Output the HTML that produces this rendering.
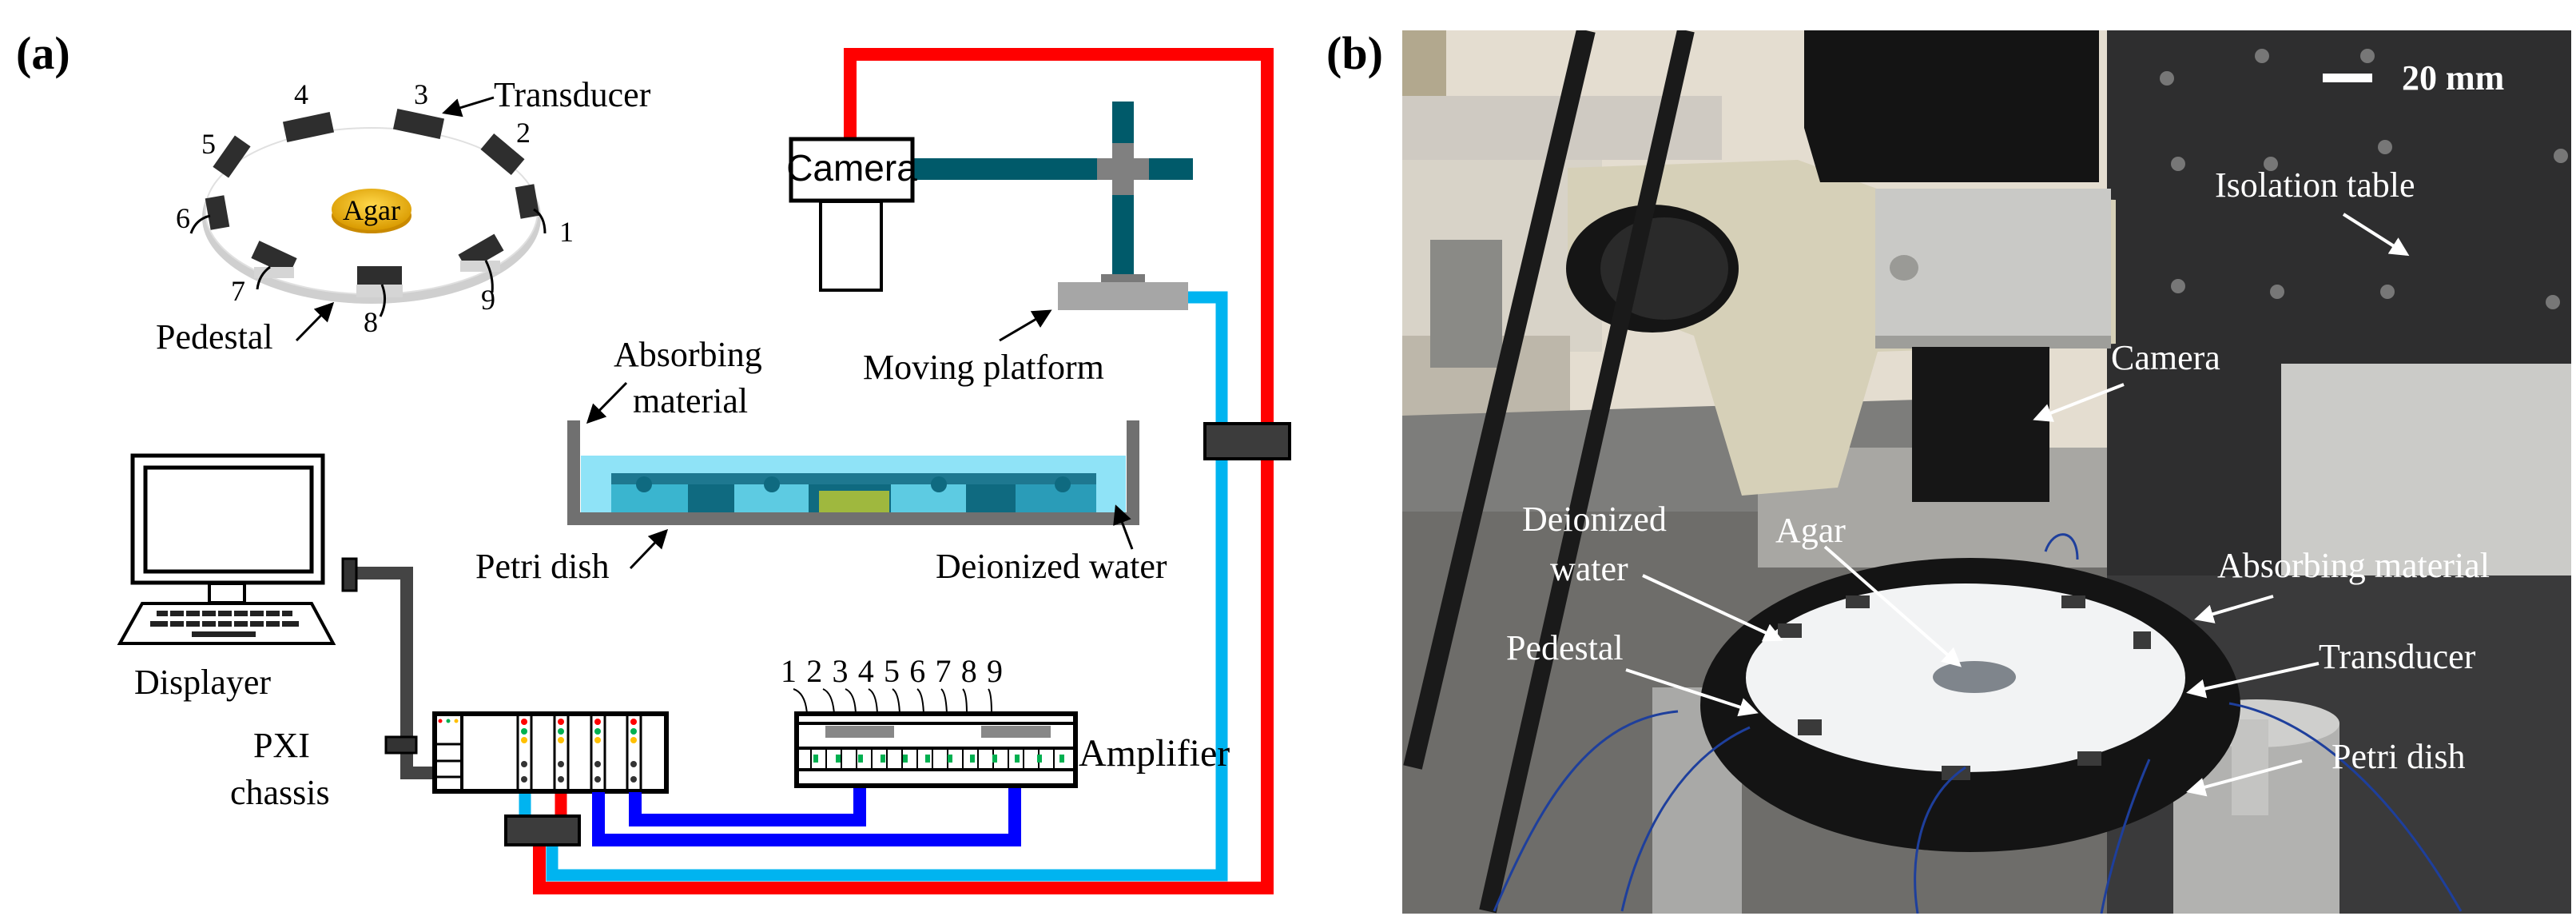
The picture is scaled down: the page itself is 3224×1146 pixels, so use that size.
<!DOCTYPE html>
<html><head><meta charset="utf-8"><style>
html,body{margin:0;padding:0;background:#fff;}
svg{display:block;}
svg text{font-family:"Liberation Serif",serif;}
svg text.sans{font-family:"Liberation Sans",sans-serif;}
</style></head><body>
<svg width="3224" height="1146" viewBox="0 0 3224 1146" xmlns="http://www.w3.org/2000/svg" font-family="Liberation Serif, serif">
<defs>
<marker id="ab" markerWidth="8" markerHeight="8" refX="7" refY="4" orient="auto" markerUnits="strokeWidth"><path d="M0,0 L8,4 L0,8 Z" fill="#000"/></marker>
<marker id="aw" markerWidth="6" markerHeight="6" refX="5" refY="3" orient="auto" markerUnits="strokeWidth"><path d="M0,0 L6,3 L0,6 Z" fill="#fff"/></marker>
<radialGradient id="gold" cx="50%" cy="40%" r="60%"><stop offset="0" stop-color="#ffd84a"/><stop offset="1" stop-color="#d99a00"/></radialGradient>
</defs>

<text x="20" y="86" font-size="58" font-weight="bold">(a)</text>

<!-- ring -->
<ellipse cx="465" cy="272" rx="212" ry="108" fill="#cfcfcf"/>
<ellipse cx="465" cy="264" rx="208" ry="104" fill="#fff" stroke="#e0e0e0" stroke-width="2"/>
<ellipse cx="465" cy="270" rx="50" ry="22" fill="#c98a00"/>
<ellipse cx="465" cy="262" rx="50" ry="26" fill="url(#gold)"/>
<text x="465" y="275" font-size="36" text-anchor="middle" font-family="Liberation Serif, serif">Agar</text>
<g fill="#2e2e2e">
<rect x="356" y="146" width="60" height="26" transform="rotate(-12 386 159)"/>
<rect x="494" y="142" width="60" height="26" transform="rotate(12 524 155)"/>
<rect x="604" y="180" width="50" height="26" transform="rotate(40 629 193)"/>
<rect x="266" y="184" width="48" height="24" transform="rotate(-55 290 196)"/>
<rect x="640" y="240" width="40" height="24" transform="rotate(80 660 252)"/>
<rect x="252" y="254" width="40" height="24" transform="rotate(-100 272 266)"/>
<rect x="576" y="304" width="52" height="24" transform="rotate(-30 602 316)"/>
<rect x="317" y="311" width="52" height="24" transform="rotate(25 343 323)"/>
<rect x="447" y="333" width="56" height="24"/>
</g>
<g fill="#d5d5d5">
<rect x="446" y="356" width="58" height="16"/><rect x="318" y="334" width="50" height="14"/><rect x="576" y="326" width="50" height="14"/>
</g>
<g fill="none" stroke="#000" stroke-width="3">
<path d="M668 262 q14 8 14 30"/><path d="M263 270 q-18 4 -24 22"/><path d="M608 326 q10 20 8 40"/>
<path d="M338 334 q-14 10 -16 28"/><path d="M478 356 q8 20 -2 40"/>
</g>
<g font-size="36" font-family="Liberation Serif, serif">
<text x="368" y="130">4</text><text x="518" y="130">3</text><text x="646" y="178">2</text><text x="252" y="192">5</text>
<text x="700" y="302">1</text><text x="220" y="285">6</text><text x="602" y="387">9</text><text x="289" y="376">7</text><text x="455" y="415">8</text>
</g>
<text x="618" y="133" font-size="44" font-family="Liberation Serif, serif">Transducer</text>
<line x1="618" y1="122" x2="556" y2="141" stroke="#000" stroke-width="3" marker-end="url(#ab)"/>
<text x="195" y="436" font-size="44" font-family="Liberation Serif, serif">Pedestal</text>
<line x1="371" y1="426" x2="416" y2="380" stroke="#000" stroke-width="3" marker-end="url(#ab)"/>

<!-- red & cyan loops -->
<path d="M1064 174 V68 H1586 V1111 H675 V1040" fill="none" stroke="#ff0000" stroke-width="16"/>
<path d="M1487 372 H1529 V1095 H691 V1040" fill="none" stroke="#00b4f0" stroke-width="15"/>
<line x1="657" y1="991" x2="657" y2="1022" stroke="#00b4f0" stroke-width="15"/>
<line x1="702" y1="991" x2="702" y2="1022" stroke="#ff0000" stroke-width="15"/>
<rect x="1508" y="530" width="106" height="44" fill="#3c3c3c" stroke="#000" stroke-width="4"/>
<rect x="633" y="1021" width="92" height="36" fill="#3c3c3c" stroke="#000" stroke-width="4"/>

<!-- camera + arm -->
<rect x="1142" y="198" width="351" height="27" fill="#005a6a"/>
<rect x="1392" y="127" width="27" height="218" fill="#005a6a"/>
<rect x="1373" y="198" width="65" height="27" fill="#808080"/>
<rect x="1392" y="179" width="27" height="65" fill="#808080"/>
<rect x="1378" y="343" width="55" height="11" fill="#7a7a7a"/>
<rect x="1324" y="353" width="163" height="35" fill="#a6a6a6"/>
<rect x="990" y="174" width="152" height="77" fill="#fff" stroke="#000" stroke-width="5"/>
<text x="1066" y="226" font-size="46" text-anchor="middle" class="sans" font-family="Liberation Sans, sans-serif">Camera</text>
<rect x="1027" y="252" width="76" height="111" fill="#fff" stroke="#000" stroke-width="4"/>
<text x="1080" y="474" font-size="44" font-family="Liberation Serif, serif">Moving platform</text>
<line x1="1251" y1="426" x2="1314" y2="389" stroke="#000" stroke-width="3" marker-end="url(#ab)"/>

<!-- tank -->
<rect x="727" y="570" width="682" height="74" fill="#8fe3f7"/>
<rect x="765" y="592" width="607" height="14" fill="#1e7890"/>
<rect x="765" y="606" width="96" height="38" fill="#3ab5cf"/>
<rect x="861" y="606" width="58" height="38" fill="#0f6a80"/>
<rect x="919" y="606" width="93" height="38" fill="#5dcbe2"/>
<rect x="1012" y="606" width="10" height="38" fill="#0f6a80"/>
<rect x="1022" y="606" width="93" height="38" fill="#0f6a80"/>
<rect x="1025" y="614" width="88" height="28" fill="#9fb83e"/>
<rect x="1115" y="606" width="94" height="38" fill="#5dcbe2"/>
<rect x="1209" y="606" width="62" height="38" fill="#0f6a80"/>
<rect x="1271" y="606" width="101" height="38" fill="#2a9cb8"/>
<g fill="#0f6a80"><circle cx="806" cy="606" r="10"/><circle cx="966" cy="606" r="10"/><circle cx="1175" cy="606" r="10"/><circle cx="1330" cy="606" r="10"/></g>
<path d="M718 526 V649 H1418 V526" fill="none" stroke="#707070" stroke-width="16"/>
<g font-size="44" font-family="Liberation Serif, serif">
<text x="768" y="458">Absorbing</text>
<text x="792" y="516">material</text>
<text x="595" y="723">Petri dish</text>
<text x="1171" y="723">Deionized water</text>
<text x="168" y="868">Displayer</text>
<text x="317" y="947">PXI</text>
<text x="288" y="1006">chassis</text>
</g>
<line x1="784" y1="479" x2="736" y2="528" stroke="#000" stroke-width="3" marker-end="url(#ab)"/>
<line x1="789" y1="711" x2="834" y2="664" stroke="#000" stroke-width="3" marker-end="url(#ab)"/>
<line x1="1417" y1="687" x2="1397" y2="634" stroke="#000" stroke-width="3" marker-end="url(#ab)"/>

<!-- computer -->
<rect x="166" y="570" width="238" height="159" fill="#fff" stroke="#000" stroke-width="5"/>
<rect x="182" y="585" width="208" height="130" fill="#fff" stroke="#000" stroke-width="5"/>
<rect x="262" y="730" width="44" height="24" fill="#fff" stroke="#000" stroke-width="4"/>
<path d="M150 805 L178 755 H390 L417 805 Z" fill="#fff" stroke="#000" stroke-width="4"/>
<g fill="#222">
<rect x="196" y="764" width="170" height="7"/><rect x="188" y="777" width="186" height="7"/><rect x="240" y="790" width="80" height="7"/>
</g>
<g fill="#fff"><rect x="210" y="764" width="3" height="20"/><rect x="230" y="764" width="3" height="20"/><rect x="250" y="764" width="3" height="20"/><rect x="270" y="764" width="3" height="20"/><rect x="290" y="764" width="3" height="20"/><rect x="310" y="764" width="3" height="20"/><rect x="330" y="764" width="3" height="20"/><rect x="350" y="764" width="3" height="20"/></g>
<path d="M430 717 H509 V967 H545" fill="none" stroke="#444" stroke-width="16"/>
<rect x="429" y="699" width="17" height="40" fill="#333" stroke="#000" stroke-width="3"/>
<rect x="483" y="922" width="38" height="20" fill="#333" stroke="#000" stroke-width="3"/>

<!-- PXI -->
<rect x="544" y="893" width="290" height="97" fill="#fff" stroke="#000" stroke-width="6"/>
<line x1="578" y1="893" x2="578" y2="990" stroke="#000" stroke-width="4"/>
<g stroke="#000" stroke-width="3"><line x1="547" y1="931" x2="578" y2="931"/><line x1="547" y1="952" x2="578" y2="952"/><line x1="547" y1="972" x2="578" y2="972"/></g>
<g stroke="#000" stroke-width="3">
<line x1="648" y1="893" x2="648" y2="990"/><line x1="665" y1="893" x2="665" y2="990"/>
<line x1="694" y1="893" x2="694" y2="990"/><line x1="711" y1="893" x2="711" y2="990"/>
<line x1="740" y1="893" x2="740" y2="990"/><line x1="757" y1="893" x2="757" y2="990"/>
<line x1="785" y1="893" x2="785" y2="990"/><line x1="802" y1="893" x2="802" y2="990"/>
</g>
<g>
<circle cx="656" cy="903" r="4" fill="red"/><circle cx="656" cy="915" r="4" fill="#00b050"/><circle cx="656" cy="926" r="4" fill="#ffc000"/><circle cx="656" cy="956" r="4" fill="#333"/><circle cx="656" cy="975" r="4" fill="#333"/>
<circle cx="702" cy="903" r="4" fill="red"/><circle cx="702" cy="915" r="4" fill="#00b050"/><circle cx="702" cy="926" r="4" fill="#ffc000"/><circle cx="702" cy="956" r="4" fill="#333"/><circle cx="702" cy="975" r="4" fill="#333"/>
<circle cx="748" cy="903" r="4" fill="red"/><circle cx="748" cy="915" r="4" fill="#00b050"/><circle cx="748" cy="926" r="4" fill="#ffc000"/><circle cx="748" cy="956" r="4" fill="#333"/><circle cx="748" cy="975" r="4" fill="#333"/>
<circle cx="793" cy="903" r="4" fill="red"/><circle cx="793" cy="915" r="4" fill="#00b050"/><circle cx="793" cy="926" r="4" fill="#ffc000"/><circle cx="793" cy="956" r="4" fill="#333"/><circle cx="793" cy="975" r="4" fill="#333"/>
<circle cx="551" cy="902" r="2.5" fill="red"/><circle cx="561" cy="902" r="2.5" fill="#00b050"/><circle cx="571" cy="902" r="2.5" fill="#ffc000"/>
</g>

<!-- blue -->
<path d="M795 991 V1026 H1076 V983" fill="none" stroke="#0000ff" stroke-width="16"/>
<path d="M749 991 V1051 H1270 V983" fill="none" stroke="#0000ff" stroke-width="16"/>

<!-- amplifier -->
<rect x="997" y="893" width="349" height="90" fill="#fff" stroke="#000" stroke-width="6"/>
<line x1="997" y1="905" x2="1346" y2="905" stroke="#000" stroke-width="4"/>
<line x1="997" y1="936" x2="1346" y2="936" stroke="#000" stroke-width="4"/>
<line x1="997" y1="963" x2="1346" y2="963" stroke="#000" stroke-width="4"/>
<rect x="1033" y="908" width="86" height="15" fill="#888"/>
<rect x="1228" y="908" width="87" height="15" fill="#888"/>
<g stroke="#000" stroke-width="2">
<line x1="1015" y1="936" x2="1015" y2="963"/><line x1="1034" y1="936" x2="1034" y2="963"/><line x1="1053" y1="936" x2="1053" y2="963"/><line x1="1072" y1="936" x2="1072" y2="963"/><line x1="1091" y1="936" x2="1091" y2="963"/><line x1="1110" y1="936" x2="1110" y2="963"/><line x1="1129" y1="936" x2="1129" y2="963"/><line x1="1148" y1="936" x2="1148" y2="963"/><line x1="1167" y1="936" x2="1167" y2="963"/><line x1="1186" y1="936" x2="1186" y2="963"/><line x1="1205" y1="936" x2="1205" y2="963"/><line x1="1224" y1="936" x2="1224" y2="963"/><line x1="1243" y1="936" x2="1243" y2="963"/><line x1="1262" y1="936" x2="1262" y2="963"/><line x1="1281" y1="936" x2="1281" y2="963"/><line x1="1300" y1="936" x2="1300" y2="963"/><line x1="1319" y1="936" x2="1319" y2="963"/>
</g>
<g fill="#00b050">
<rect x="1018" y="944" width="6" height="10"/><rect x="1046" y="944" width="6" height="10"/><rect x="1074" y="944" width="6" height="10"/><rect x="1102" y="944" width="6" height="10"/><rect x="1130" y="944" width="6" height="10"/><rect x="1158" y="944" width="6" height="10"/><rect x="1186" y="944" width="6" height="10"/><rect x="1214" y="944" width="6" height="10"/><rect x="1242" y="944" width="6" height="10"/><rect x="1270" y="944" width="6" height="10"/><rect x="1298" y="944" width="6" height="10"/><rect x="1326" y="944" width="6" height="10"/>
</g>
<text x="977" y="853" font-size="40" textLength="278" font-family="Liberation Serif, serif">1 2 3 4 5 6 7 8 9</text>
<g fill="none" stroke="#000" stroke-width="2">
<path d="M993 862 q15 5 17 31"/><path d="M1030 862 q12 5 14 31"/><path d="M1058 862 q12 5 13 31"/><path d="M1087 862 q10 5 11 31"/><path d="M1117 862 q8 5 9 31"/><path d="M1148 862 q7 5 8 31"/><path d="M1178 862 q6 5 7 31"/><path d="M1205 862 q5 5 5 31"/><path d="M1237 862 q4 5 4 31"/>
</g>
<text x="1350" y="958" font-size="48" font-family="Liberation Serif, serif">Amplifier</text>

<!-- (b) -->
<text x="1660" y="86" font-size="58" font-weight="bold">(b)</text>
<svg x="1755" y="38" width="1463" height="1105" viewBox="1755 38 1463 1105">
<rect x="1755" y="38" width="1463" height="1105" fill="#e4ddd0"/>
<rect x="1755" y="38" width="55" height="90" fill="#b2a88e"/>
<rect x="1755" y="120" width="400" height="80" fill="#cfcac2"/>
<rect x="1755" y="200" width="250" height="240" fill="#d8d3c8"/>
<rect x="1755" y="420" width="210" height="300" fill="#bdb7aa"/>
<rect x="1790" y="300" width="90" height="160" fill="#8a8a86"/>
<polygon points="1755,520 2400,500 2410,620 1755,720" fill="#7d7d7b"/>
<rect x="1755" y="640" width="900" height="503" fill="#6e6d6a"/>
<rect x="2200" y="560" width="480" height="150" fill="#a8a7a3"/>
<rect x="2637" y="38" width="581" height="700" fill="#2e2e2f"/>
<rect x="2855" y="455" width="363" height="270" fill="#cbcbc8"/>
<rect x="2637" y="720" width="581" height="423" fill="#3a3a3b"/>
<g fill="#777"><circle cx="2712" cy="98" r="9"/><circle cx="2831" cy="70" r="9"/><circle cx="2963" cy="70" r="9"/><circle cx="2726" cy="205" r="9"/><circle cx="2842" cy="205" r="9"/><circle cx="2985" cy="184" r="9"/><circle cx="3205" cy="195" r="9"/><circle cx="2726" cy="358" r="9"/><circle cx="2850" cy="365" r="9"/><circle cx="2988" cy="365" r="9"/><circle cx="3195" cy="378" r="9"/></g>
<path d="M1962 210 L2250 200 L2360 240 L2648 250 L2648 430 L2350 440 L2300 610 L2180 620 L2120 420 L1962 360 Z" fill="#d6d0b8"/>
<ellipse cx="2068" cy="336" rx="108" ry="80" fill="#151515"/>
<ellipse cx="2083" cy="336" rx="80" ry="64" fill="#2a2a2a"/>
<polygon points="2258,37 2627,37 2627,228 2278,228 2258,160" fill="#141414"/>
<rect x="2347" y="236" width="295" height="200" fill="#c9c9c6"/>
<rect x="2347" y="420" width="295" height="16" fill="#9e9e9a"/>
<rect x="2393" y="434" width="172" height="194" fill="#161616"/>
<ellipse cx="2383" cy="335" rx="18" ry="16" fill="#9a9a96"/>
<line x1="1985" y1="38" x2="1768" y2="960" stroke="#1a1a1a" stroke-width="24"/>
<line x1="2110" y1="38" x2="1862" y2="1140" stroke="#1a1a1a" stroke-width="22"/>
<rect x="2068" y="860" width="112" height="283" fill="#a9a9a7"/>
<rect x="2720" y="905" width="208" height="238" fill="#b2b2b0"/>
<ellipse cx="2824" cy="905" rx="104" ry="30" fill="#cfcfcd"/>
<rect x="2793" y="900" width="46" height="120" fill="#c4c4c2"/>
<ellipse cx="2466" cy="882" rx="338" ry="184" fill="#141414"/>
<ellipse cx="2460" cy="848" rx="275" ry="118" fill="#f2f3f4"/>
<ellipse cx="2471" cy="847" rx="52" ry="20" fill="#7f858c"/>
<g fill="#3a3a3a"><rect x="2225" y="780" width="30" height="18"/><rect x="2310" y="745" width="30" height="16"/><rect x="2580" y="745" width="30" height="16"/><rect x="2670" y="790" width="22" height="22"/><rect x="2250" y="900" width="30" height="20"/><rect x="2430" y="958" width="36" height="18"/><rect x="2600" y="940" width="30" height="18"/></g>
<g fill="none" stroke="#1e3f9c" stroke-width="3">
<path d="M2100 890 C1990 900 1930 1000 1870 1140"/><path d="M2190 910 C2100 950 2050 1050 2030 1140"/><path d="M2460 960 C2400 1000 2390 1080 2400 1143"/><path d="M2790 880 C2900 900 3000 1000 3080 1140"/><path d="M2690 950 C2660 1020 2640 1090 2630 1143"/><path d="M2560 690 C2570 660 2600 660 2600 700"/>
</g>
</svg>
<rect x="2907" y="92" width="62" height="11" fill="#fff"/>
<g fill="#fff" font-size="44" font-family="Liberation Serif, serif">
<text x="3006" y="112" font-weight="bold">20 mm</text>
<text x="2772" y="246">Isolation table</text>
<text x="2642" y="462">Camera</text>
<text x="1905" y="664">Deionized</text>
<text x="1940" y="726">water</text>
<text x="2222" y="678">Agar</text>
<text x="2775" y="722">Absorbing material</text>
<text x="1885" y="825">Pedestal</text>
<text x="2902" y="836">Transducer</text>
<text x="2918" y="961">Petri dish</text>
</g>
<g stroke="#fff" stroke-width="4">
<line x1="2933" y1="268" x2="3012" y2="318" marker-end="url(#aw)"/>
<line x1="2658" y1="481" x2="2548" y2="524" marker-end="url(#aw)"/>
<line x1="2284" y1="684" x2="2452" y2="832" marker-end="url(#aw)"/>
<line x1="2056" y1="720" x2="2228" y2="800" marker-end="url(#aw)"/>
<line x1="2845" y1="746" x2="2750" y2="774" marker-end="url(#aw)"/>
<line x1="2035" y1="838" x2="2197" y2="891" marker-end="url(#aw)"/>
<line x1="2902" y1="830" x2="2740" y2="866" marker-end="url(#aw)"/>
<line x1="2881" y1="952" x2="2740" y2="990" marker-end="url(#aw)"/>
</g>
</svg>
</body></html>
